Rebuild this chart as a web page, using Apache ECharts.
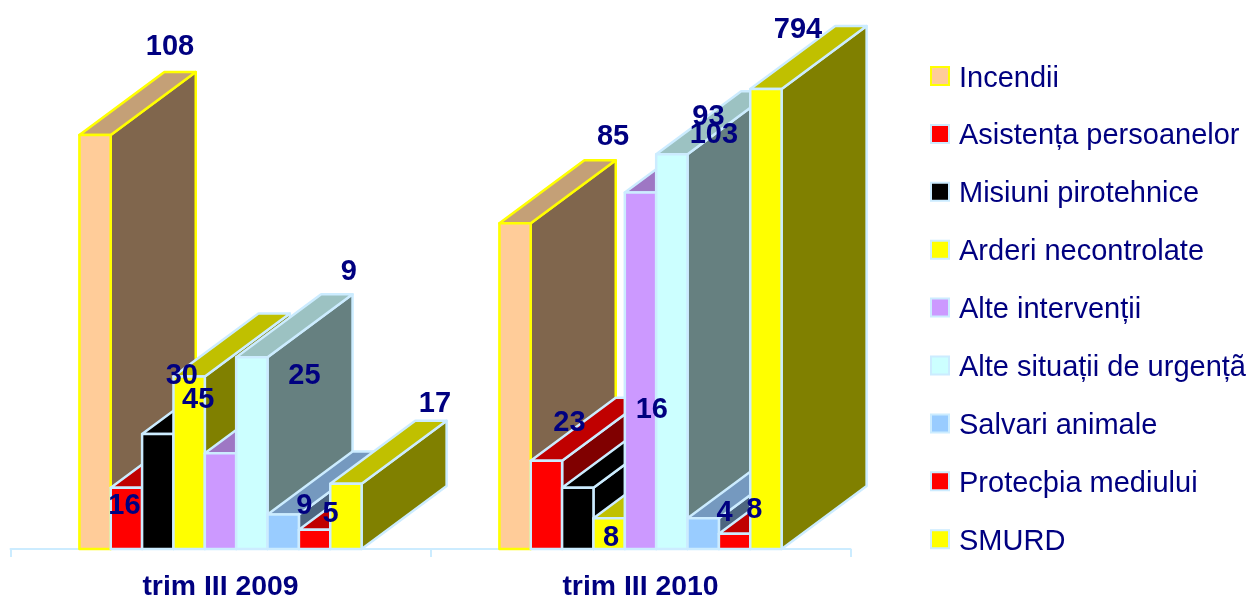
<!DOCTYPE html>
<html style="height: 100%">

<head>
    <meta charset="utf-8">
    <script src="https://cdn.jsdelivr.net/npm/echarts@6/dist/echarts.min.js"></script>
</head>

<body style="height: 100%; margin: 0; background: #fff">
    <div id="main" style="width:1247px;height:597px;"></div>
    <script type="text/javascript">
    var categories = ['trim III 2009', 'trim III 2010'];
    var seriesNames = ['Incendii', 'Asistența persoanelor', 'Misiuni pirotehnice', 'Arderi necontrolate', 'Alte intervenții', 'Alte situații de urgențã', 'Salvari animale', 'Protecþia mediului', 'SMURD'];
    // bar heights, the 794 bar runs into the top of the axis
    var values2009 = [108, 16, 30, 45, 25, 50, 9, 5, 17];
    var values2010 = [85, 23, 16, 8, 93, 103, 8, 4, 794];
    // the printed labels do not always agree with the bars
    var labels2009 = ['108', '16', '30', '45', '25', '9', '9', '5', '17'];
    var labels2010 = ['85', '23', '16', '8', '93', '103', '8', '4', '794'];

    // label shift from the middle of the bar's front top edge
    var labelShift2009 = [[75, -88], [-2, 18], [24, -58], [9, 23], [84, -77], [97, -85], [21, -9], [16, -16], [89, -80]];
    var labelShift2010 = [[98, -86], [23, -38], [74, -78], [2, 20], [68, -76], [42, -19], [51, -8], [-10, -21], [32, -59]];

    var yMax = 120;
    var depthX = 85;
    var depthY = 63;
    var groupShare = 0.672;
    var textColor = '#000080';
    var frontColors = ['#FFCC99', '#FF0000', '#000000', '#FFFF00', '#CC99FF', '#CCFFFF', '#99CCFF', '#FF0000', '#FFFF00'];
    var topColors = ['#C4A077', '#C00000', '#000000', '#C0C000', '#9E77C4', '#9CC2C2', '#7599BF', '#C00000', '#C0C000'];
    var sideColors = ['#80664D', '#800000', '#000000', '#808000', '#664D80', '#668080', '#4D6680', '#800000', '#808000'];
    var edgeColors = ['#FFFF00', '#CCECFF', '#CCECFF', '#CCECFF', '#CCECFF', '#CCECFF', '#CCECFF', '#CCECFF', '#CCECFF'];

    function barRenderer(idx) {
        return function(params, api) {
            var cat = api.value(0);
            var base = api.coord([cat, 0]);
            var top = api.coord([cat, Math.min(api.value(1), yMax)]);
            var w = api.size([1, 0])[0] * groupShare / seriesNames.length;
            var x0 = base[0] + (idx - seriesNames.length / 2) * w;
            var x1 = x0 + w;
            var y0 = base[1];
            var y1 = top[1];
            var stroke = { stroke: edgeColors[idx], lineWidth: 2.5, lineJoin: 'round' };
            return {
                type: 'group',
                children: [{
                    type: 'polygon',
                    shape: { points: [[x1, y0], [x1 + depthX, y0 - depthY], [x1 + depthX, y1 - depthY], [x1, y1]] },
                    style: Object.assign({ fill: sideColors[idx] }, stroke)
                }, {
                    type: 'polygon',
                    shape: { points: [[x0, y1], [x1, y1], [x1 + depthX, y1 - depthY], [x0 + depthX, y1 - depthY]] },
                    style: Object.assign({ fill: topColors[idx] }, stroke)
                }, {
                    type: 'rect',
                    shape: { x: x0, y: y1, width: w, height: y0 - y1 },
                    style: Object.assign({ fill: frontColors[idx] }, stroke)
                }]
            };
        };
    }

    function labelRenderer(params, api) {
        var cat = api.value(0);
        var idx = api.value(1);
        var value = cat == 0 ? values2009[idx] : values2010[idx];
        var text = cat == 0 ? labels2009[idx] : labels2010[idx];
        var shift = cat == 0 ? labelShift2009[idx] : labelShift2010[idx];
        var top = api.coord([cat, Math.min(value, yMax)]);
        var w = api.size([1, 0])[0] * groupShare / seriesNames.length;
        return {
            type: 'text',
            style: {
                text: text,
                x: top[0] + (idx + 0.5 - seriesNames.length / 2) * w + shift[0],
                y: top[1] + shift[1],
                fill: textColor,
                font: 'bold 29px "Liberation Sans"',
                align: 'center',
                verticalAlign: 'middle'
            }
        };
    }

    var series = seriesNames.map(function(name, i) {
        return {
            name: name,
            type: 'custom',
            renderItem: barRenderer(i),
            encode: { x: 0, y: 1 },
            data: [[0, values2009[i]], [1, values2010[i]]]
        };
    });

    var labelData = [];
    seriesNames.forEach(function(name, i) {
        labelData.push([0, i]);
        labelData.push([1, i]);
    });
    series.push({
        name: 'etichete',
        type: 'custom',
        renderItem: labelRenderer,
        encode: { x: 0 },
        z: 5,
        data: labelData
    });

    var myChart = echarts.init(document.getElementById('main'));
    var option = {
        animation: false,
        backgroundColor: '#fff',
        grid: { left: 10.5, width: 840, top: 89, height: 460, outerBoundsMode: 'none' },
        xAxis: {
            type: 'category',
            data: categories,
            axisLine: { lineStyle: { color: '#CCECFF', width: 2 } },
            axisTick: { show: true, length: 8, lineStyle: { color: '#CCECFF', width: 2 } },
            axisLabel: { color: textColor, fontFamily: 'Liberation Sans', fontWeight: 'bold', fontSize: 28.4, margin: 24 }
        },
        yAxis: { type: 'value', min: 0, max: yMax, show: false },
        legend: {
            orient: 'vertical',
            left: 930,
            top: 64,
            padding: 0,
            icon: 'rect',
            itemWidth: 18,
            itemHeight: 18,
            itemGap: 28.9,
            selectedMode: false,
            formatter: '{t|{name}}',
            textStyle: {
                color: textColor,
                fontFamily: 'Liberation Sans',
                fontSize: 29,
                rich: { t: { color: textColor, fontFamily: 'Liberation Sans', fontSize: 29, padding: [5, 0, 0, 5] } }
            },
            data: seriesNames.map(function(name, i) {
                return { name: name, itemStyle: { color: frontColors[i], borderColor: edgeColors[i], borderWidth: 2 } };
            })
        },
        series: series
    };
    myChart.setOption(option);
    </script>
</body>

</html>
